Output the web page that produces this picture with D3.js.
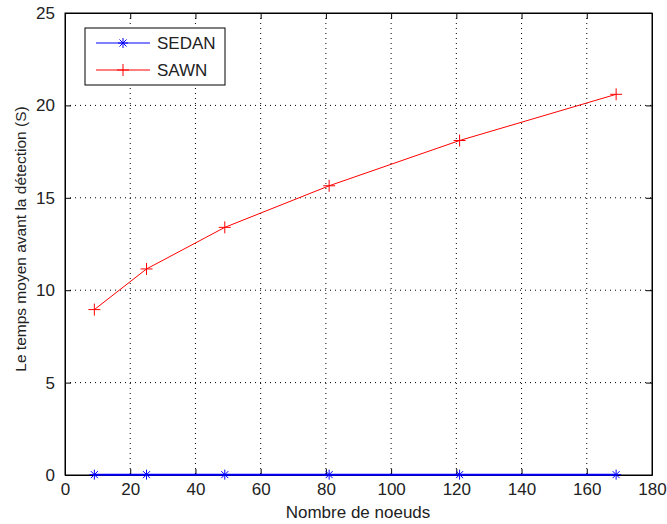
<!DOCTYPE html>
<html>
<head>
<meta charset="utf-8">
<script src="https://cdn.jsdelivr.net/npm/d3@7"></script>
<style>
  body { margin: 0; background: #fff; }
  text { font-family: "Liberation Sans", Arial, sans-serif; fill: #222; }
</style>
</head>
<body>
<svg width="667" height="524"></svg>
<script>
// donnees
const noeuds = [9, 25, 49, 81, 121, 169]
const sedan = [0.02, 0.02, 0.02, 0.02, 0.02, 0.02]
const sawn = [8.95, 11.15, 13.4, 15.65, 18.1, 20.6]
const xTicks = [0, 20, 40, 60, 80, 100, 120, 140, 160, 180]
const yTicks = [0, 5, 10, 15, 20, 25]

const svg = d3.select('svg')
const m = { left: 65, right: 652, top: 13, bottom: 475 }
const fs = 17

const x = d3.scaleLinear().domain([0, 180]).range([m.left, m.right])
const y = d3.scaleLinear().domain([0, 25]).range([m.bottom, m.top])

// grille pointillee
const grid = svg.append('g')
grid.selectAll('.gx').data(xTicks.slice(1, -1)).enter().append('line')
    .attr('x1', d => x(d)).attr('x2', d => x(d))
    .attr('y1', m.top).attr('y2', m.bottom)
    .attr('stroke', '#000').attr('stroke-width', 1)
    .attr('stroke-dasharray', '1,4')
grid.selectAll('.gy').data(yTicks.slice(1, -1)).enter().append('line')
    .attr('y1', d => y(d)).attr('y2', d => y(d))
    .attr('x1', m.left).attr('x2', m.right)
    .attr('stroke', '#000').attr('stroke-width', 1)
    .attr('stroke-dasharray', '1,4')

// axes (ticks vers l'interieur, comme matlab)
const tickLen = 6
svg.append('g').attr('transform', `translate(0,${m.bottom})`)
    .call(d3.axisBottom(x).tickValues(xTicks).tickSizeInner(-tickLen).tickSizeOuter(0).tickPadding(8))
svg.append('g').attr('transform', `translate(0,${m.top})`)
    .call(d3.axisTop(x).tickValues(xTicks).tickSizeInner(-tickLen).tickSizeOuter(0).tickFormat(''))
svg.append('g').attr('transform', `translate(${m.left},0)`)
    .call(d3.axisLeft(y).tickValues(yTicks).tickSizeInner(-tickLen).tickSizeOuter(0).tickPadding(10))
svg.append('g').attr('transform', `translate(${m.right},0)`)
    .call(d3.axisRight(y).tickValues(yTicks).tickSizeInner(-tickLen).tickSizeOuter(0).tickFormat(''))

svg.selectAll('.domain').attr('stroke', '#000').attr('stroke-width', 1)
svg.selectAll('.tick line').attr('stroke', '#000')
svg.selectAll('.tick text').attr('font-size', fs).attr('font-family', '"Liberation Sans", Arial, sans-serif').attr('fill', '#222')

// cadre
svg.append('rect')
    .attr('x', m.left).attr('y', m.top)
    .attr('width', m.right - m.left).attr('height', m.bottom - m.top)
    .attr('fill', 'none').attr('stroke', '#000')

// courbes
const line = d3.line().x((d, i) => x(noeuds[i])).y(d => y(d))

function plus(g, cx, cy, color, s) {
    g.append('line').attr('x1', cx - s).attr('x2', cx + s).attr('y1', cy).attr('y2', cy).attr('stroke', color)
    g.append('line').attr('x1', cx).attr('x2', cx).attr('y1', cy - s).attr('y2', cy + s).attr('stroke', color)
}
function star(g, cx, cy, color, s) {
    plus(g, cx, cy, color, s)
    const d = s * 0.7
    g.append('line').attr('x1', cx - d).attr('x2', cx + d).attr('y1', cy - d).attr('y2', cy + d).attr('stroke', color)
    g.append('line').attr('x1', cx - d).attr('x2', cx + d).attr('y1', cy + d).attr('y2', cy - d).attr('stroke', color)
}

svg.append('path').datum(sawn).attr('d', line)
    .attr('fill', 'none').attr('stroke', '#ff0000').attr('stroke-width', 1)
const pSawn = svg.append('g')
sawn.forEach((v, i) => plus(pSawn, x(noeuds[i]), y(v), '#ff0000', 6))

svg.append('path').datum(sedan).attr('d', line)
    .attr('fill', 'none').attr('stroke', '#0000ff').attr('stroke-width', 2)
const pSedan = svg.append('g')
sedan.forEach((v, i) => star(pSedan, x(noeuds[i]), y(v), '#0000ff', 5))

// legende
const leg = svg.append('g')
leg.append('rect').attr('x', 85).attr('y', 28).attr('width', 140).attr('height', 57)
    .attr('fill', '#fff').attr('stroke', '#000')
leg.append('line').attr('x1', 96).attr('x2', 150).attr('y1', 43).attr('y2', 43).attr('stroke', '#0000ff')
star(leg, 123, 43, '#0000ff', 5)
leg.append('text').attr('x', 157).attr('y', 49).attr('font-size', fs).text('SEDAN')
leg.append('line').attr('x1', 96).attr('x2', 150).attr('y1', 70).attr('y2', 70).attr('stroke', '#ff0000')
plus(leg, 123, 70, '#ff0000', 6)
leg.append('text').attr('x', 157).attr('y', 76).attr('font-size', fs).text('SAWN')

// titres des axes
svg.append('text').attr('x', 358).attr('y', 518)
    .attr('text-anchor', 'middle').attr('font-size', fs).text('Nombre de noeuds')
svg.append('text').attr('transform', `translate(26,239) rotate(-90)`)
    .attr('text-anchor', 'middle').attr('font-size', 15.5).text('Le temps moyen avant la détection (S)')
</script>
</body>
</html>
